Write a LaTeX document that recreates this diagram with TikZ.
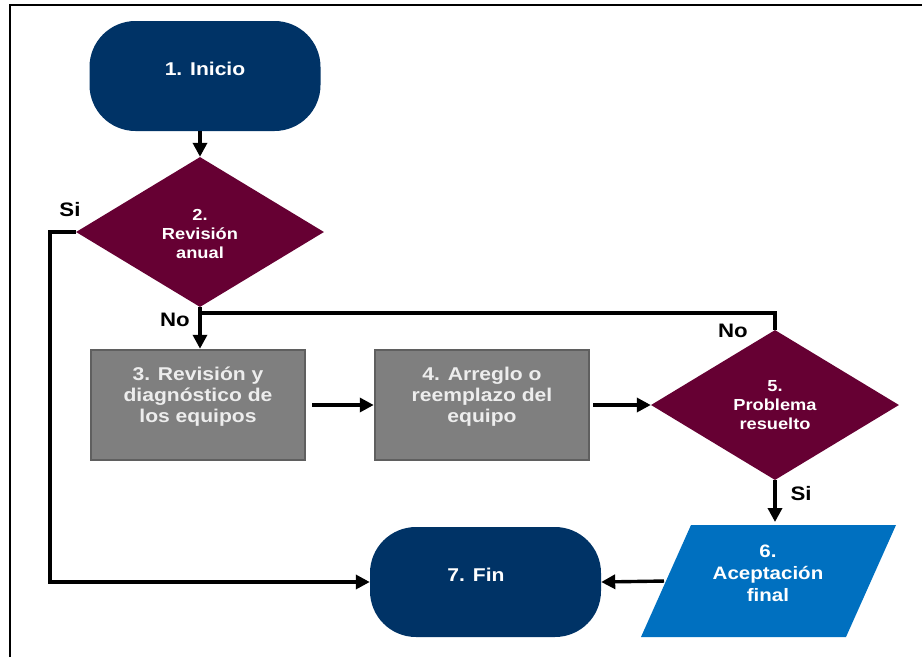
\documentclass[tikz,border=0pt]{standalone}
\usepackage{fontspec}
\setmainfont{Liberation Sans}[FakeStretch=1.14]
\usetikzlibrary{arrows.meta,shapes.geometric}
\definecolor{azulInicio}{HTML}{003366}
\definecolor{guinda}{HTML}{660033}
\definecolor{grisCaja}{HTML}{7F7F7F}
\definecolor{grisBorde}{HTML}{5F5F5F}
\definecolor{azulAcep}{HTML}{0070C0}

\begin{document}
\begin{tikzpicture}[x=1pt,y=-1pt,>={Triangle[length=14pt,width=14pt]},
    terminal/.style={rectangle,rounded corners=46pt,fill=azulInicio,
      minimum width=231pt,minimum height=110pt,inner sep=0pt},
    decision/.style={diamond,fill=guinda,minimum width=248pt,
      minimum height=150pt,inner sep=0pt},
    proceso/.style={rectangle,fill=grisCaja,draw=grisBorde,line width=2.5pt,
      minimum width=214pt,minimum height=110pt,inner sep=0pt},
    texto/.style={text=white,align=center,
      font=\bfseries\fontsize{18.5}{21}\selectfont},
    textoRombo/.style={texto,font=\bfseries\fontsize{16}{19}\selectfont},
    flecha/.style={->,line width=3.4pt},
    etiqueta/.style={font=\bfseries\fontsize{19.5}{22}\selectfont}]
  \useasboundingbox (0,0) rectangle (922,657);
  % marco
  \draw[line width=2.6pt] (10,657) -- (10,5) -- (922,5);
  % figuras
  \node[terminal] (inicio) at (205,76) {};
  \node[texto] (tInicio) at (205,69) {1. Inicio};
  \node[decision] (revision) at (200,232) {};
  \node[textoRombo] (tRevision) at (200,234) {2.\\Revisión\\anual};
  \node[proceso] (diag) at (198,405) {};
  \node[texto,text=white!93!black] (tDiag) at (198,397)
    {3. Revisión y\\diagnóstico de\\los equipos};
  \node[proceso] (arreglo) at (482,405) {};
  \node[texto,text=white!93!black] (tArreglo) at (482,397)
    {4. Arreglo o\\reemplazo del\\equipo};
  \node[decision] (problema) at (775,405) {};
  \node[textoRombo] (tProblema) at (775,405) {5.\\Problema\\resuelto};
  \fill[azulAcep] (641,637) -- (691,525) -- (896,525) -- (846,637) -- cycle;
  \coordinate (aceptArriba) at (775,525);
  \coordinate (aceptIzq) at (666,581);
  \node[texto,font=\bfseries\fontsize{18}{22}\selectfont] (tAcept)
    at (768,573) {6.\\Aceptación\\final};
  \node[terminal] (fin) at (485.5,582) {};
  \node[texto] (tFin) at (476,575) {7. Fin};
  % conectores
  \draw[flecha] (revision.north |- inicio.south) -- (revision.north);
  \draw[flecha] (revision.south) -- (revision.south |- diag.north);
  \draw[line width=3.4pt] (revision.south |- 0,313) -| (problema.north);
  \draw[flecha] (revision.west) -- ++(-26,0) |- (fin.west);
  \draw[flecha,shorten <=6pt] (diag.east) -- (arreglo.west);
  \draw[flecha,shorten <=3pt] (arreglo.east) -- (problema.west);
  \draw[flecha,shorten >=3pt] (problema.south) -- (aceptArriba);
  \draw[flecha,shorten <=2pt] (aceptIzq) -- (fin.east);
  % etiquetas
  \node[etiqueta] (si1) at (70,210) {Si};
  \node[etiqueta] (no1) at (175,320) {No};
  \node[etiqueta] (no2) at (733,331) {No};
  \node[etiqueta] (si2) at (801,494) {Si};
\end{tikzpicture}
\end{document}
